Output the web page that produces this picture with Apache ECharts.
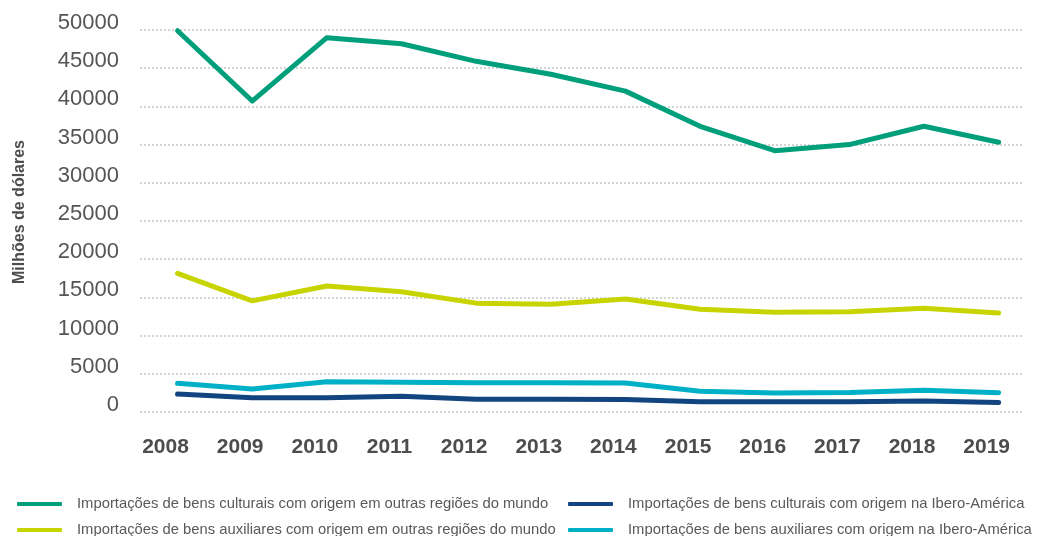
<!DOCTYPE html>
<html>
<head>
<meta charset="utf-8">
<script src="https://cdn.jsdelivr.net/npm/echarts@6/dist/echarts.min.js"></script>
<style>
  html, body { margin: 0; padding: 0; background: #fff; }
  #chart { width: 1037px; height: 536px; }
</style>
</head>
<body>
<div id="chart"></div>
<script>
// anos
const years = [2008, 2009, 2010, 2011, 2012, 2013, 2014, 2015, 2016, 2017, 2018, 2019];

// milhões de dólares
const culturaisOutras = [49900, 40700, 49000, 48200, 45900, 44200, 42000, 37400, 34200, 35000, 37400, 35300];
const culturaisIbero = [2350, 1880, 1880, 2050, 1660, 1660, 1620, 1350, 1330, 1340, 1440, 1230];
const auxiliaresOutras = [18150, 14550, 16500, 15750, 14250, 14100, 14800, 13450, 13050, 13130, 13570, 12950];
const auxiliaresIbero = [3750, 3000, 3950, 3880, 3840, 3830, 3800, 2720, 2500, 2540, 2840, 2530];

const names = [
  'Importações de bens culturais com origem em outras regiões do mundo',
  'Importações de bens culturais com origem na Ibero-América',
  'Importações de bens auxiliares com origem em outras regiões do mundo',
  'Importações de bens auxiliares com origem na Ibero-América'
];
const colors = ['#009f7b', '#12457f', '#c8d400', '#00b0c6'];

const pairs = vals => years.map((y, i) => [y, vals[i]]);

const myChart = echarts.init(document.getElementById('chart'));

// uma legenda por item: 2 colunas x 2 linhas
const legendPos = [[17, 496], [568, 496], [17, 522], [568, 522]];
const legends = names.map((n, i) => ({
  left: legendPos[i][0],
  top: legendPos[i][1],
  data: [n],
  icon: 'roundRect',
  itemWidth: 45,
  itemHeight: 4,
  padding: 0,
  textStyle: {
    fontFamily: 'Liberation Sans',
    fontSize: 14.8,
    color: '#595959',
    lineHeight: 16,
    padding: [0, 0, 0, 10]
  }
}));

myChart.setOption({
  animation: false,
  color: colors,
  grid: {
    left: 140,
    right: 2,
    top: 30,
    bottom: 124
  },
  legend: legends,
  xAxis: {
    type: 'value',
    min: 2007.497,
    max: 2019.33,
    axisLine: { show: false },
    axisTick: { show: false },
    splitLine: { show: false },
    axisLabel: {
      customValues: years,
      formatter: v => String(v),
      margin: 24,
      fontFamily: 'Liberation Sans',
      fontSize: 21,
      fontWeight: 'bold',
      color: '#4d4d4d',
      lineHeight: 22,
      padding: [0, 24, 0, 0]
    }
  },
  yAxis: {
    type: 'value',
    min: 0,
    max: 50000,
    interval: 5000,
    name: 'Milhões de dólares',
    nameLocation: 'middle',
    nameGap: 112,
    nameTextStyle: {
      fontFamily: 'Liberation Sans',
      fontSize: 16,
      fontWeight: 'bold',
      color: '#4d4d4d',
      padding: [0, 0, 0, 18]
    },
    axisLine: { show: false },
    axisTick: { show: false },
    axisLabel: {
      formatter: v => String(v),
      margin: 21,
      fontFamily: 'Liberation Sans',
      fontSize: 22,
      color: '#555',
      verticalAlign: 'bottom',
      lineHeight: 14
    },
    splitLine: {
      lineStyle: { color: '#d4d4d4', width: 2, type: [2, 2] }
    }
  },
  series: [
    culturaisOutras, culturaisIbero, auxiliaresOutras, auxiliaresIbero
  ].map((vals, i) => ({
    name: names[i],
    type: 'line',
    data: pairs(vals),
    symbol: 'none',
    lineStyle: { width: 5, cap: 'round', join: 'round' }
  }))
});
</script>
</body>
</html>
